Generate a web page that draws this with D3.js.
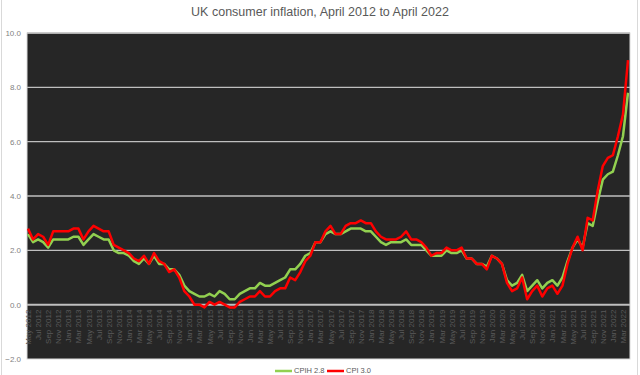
<!DOCTYPE html>
<html>
<head>
<meta charset="utf-8">
<script src="https://cdn.jsdelivr.net/npm/d3@7"></script>
<style>
  html, body { margin: 0; padding: 0; background: #fff; }
  svg { display: block; font-family: "Liberation Sans", Arial, sans-serif; }
</style>
</head>
<body>
<div id="chart"></div>
<script>
// UK consumer inflation, monthly 12-month rates, May 2012 .. Apr 2022

const months = d3.timeMonth.range(new Date(2012, 4, 1), new Date(2022, 4, 1));

const cpih = [
  2.6, 2.3, 2.4, 2.3, 2.1, 2.4, 2.4, 2.4,
  2.4, 2.5, 2.5, 2.2, 2.4, 2.6, 2.5, 2.4, 2.4, 2.0, 1.9, 1.9,
  1.8, 1.6, 1.5, 1.7, 1.5, 1.8, 1.5, 1.5, 1.3, 1.3, 1.1, 0.7,
  0.5, 0.4, 0.3, 0.3, 0.4, 0.3, 0.5, 0.4, 0.2, 0.2, 0.4, 0.5,
  0.6, 0.6, 0.8, 0.7, 0.7, 0.8, 0.9, 1.0, 1.3, 1.3, 1.5, 1.8,
  1.9, 2.3, 2.3, 2.6, 2.7, 2.6, 2.6, 2.7, 2.8, 2.8, 2.8, 2.7,
  2.7, 2.5, 2.3, 2.2, 2.3, 2.3, 2.3, 2.4, 2.2, 2.2, 2.2, 2.0,
  1.8, 1.8, 1.8, 2.0, 1.9, 1.9, 2.0, 1.7, 1.7, 1.5, 1.5, 1.4,
  1.8, 1.7, 1.5, 0.9, 0.7, 0.8, 1.1, 0.5, 0.7, 0.9, 0.6, 0.8,
  0.9, 0.7, 1.0, 1.6, 2.1, 2.4, 2.1, 3.0, 2.9, 3.8, 4.6, 4.8,
  4.9, 5.5, 6.2, 7.8
];

const cpi = [
  2.8, 2.4, 2.6, 2.5, 2.2, 2.7, 2.7, 2.7,
  2.7, 2.8, 2.8, 2.4, 2.7, 2.9, 2.8, 2.7, 2.7, 2.2, 2.1, 2.0,
  1.9, 1.7, 1.6, 1.8, 1.5, 1.9, 1.6, 1.5, 1.2, 1.3, 1.0, 0.5,
  0.3, 0.0, 0.0, -0.1, 0.1, 0.0, 0.1, 0.0, -0.1, -0.1, 0.1, 0.2,
  0.3, 0.3, 0.5, 0.3, 0.3, 0.5, 0.6, 0.6, 1.0, 0.9, 1.2, 1.6,
  1.8, 2.3, 2.3, 2.7, 2.9, 2.6, 2.6, 2.9, 3.0, 3.0, 3.1, 3.0,
  3.0, 2.7, 2.5, 2.4, 2.4, 2.4, 2.5, 2.7, 2.4, 2.4, 2.3, 2.1,
  1.8, 1.9, 1.9, 2.1, 2.0, 2.0, 2.1, 1.7, 1.7, 1.5, 1.5, 1.3,
  1.8, 1.7, 1.5, 0.8, 0.5, 0.6, 1.0, 0.2, 0.5, 0.7, 0.3, 0.6,
  0.7, 0.4, 0.7, 1.5, 2.1, 2.5, 2.0, 3.2, 3.1, 4.2, 5.1, 5.4,
  5.5, 6.2, 7.0, 9.0
];

const yTicks = [-2, 0, 2, 4, 6, 8, 10];
const seriesNames = ["CPIH 2.8", "CPI 3.0"];
const seriesColors = ["#92d050", "#ff0000"];

const W = 640, H = 375;
const plot = { left: 27, right: 630, top: 33, bottom: 359 };

const svg = d3.select("#chart").append("svg")
  .attr("width", W)
  .attr("height", H);

// chart frame
svg.append("rect")
  .attr("x", 1.5).attr("y", -2)
  .attr("width", 636).attr("height", H + 4)
  .attr("fill", "#fff")
  .attr("stroke", "#d9d9d9");

svg.append("text")
  .attr("x", W / 2)
  .attr("y", 16)
  .attr("text-anchor", "middle")
  .attr("fill", "#595959")
  .style("font-size", "12.5px")
  .text("UK consumer inflation, April 2012 to April 2022");

const x = d3.scalePoint()
  .domain(months.map((d, i) => i))
  .range([plot.left + 1, plot.right - 2]);

const y = d3.scaleLinear()
  .domain([-2, 10])
  .range([plot.bottom, plot.top]);

svg.append("rect")
  .attr("x", plot.left)
  .attr("y", plot.top)
  .attr("width", plot.right - plot.left)
  .attr("height", plot.bottom - plot.top)
  .attr("fill", "#262626")
  .attr("stroke", "#d9d9d9")
  .attr("stroke-width", 1);

// gridlines
svg.append("g")
  .selectAll("line")
  .data(yTicks.filter((d) => d > -2))
  .join("line")
  .attr("x1", plot.left)
  .attr("x2", plot.right)
  .attr("y1", (d) => y(d))
  .attr("y2", (d) => y(d))
  .attr("stroke", "#bfbfbf")
  .attr("stroke-width", (d) => (d === 0 ? 2 : 1.3));

// y axis labels
const yAxis = svg.append("g")
  .attr("transform", `translate(${plot.left},0)`)
  .call(d3.axisLeft(y).tickValues(yTicks).tickFormat(d3.format(".1f")).tickSize(0).tickPadding(6));
yAxis.select(".domain").remove();
yAxis.selectAll("text")
  .attr("fill", "#7f7f7f")
  .style("font-size", "8px")
  .style("font-family", "Liberation Sans, Arial, sans-serif");

// x axis sits on the zero line, labels rotated
const fmt = d3.timeFormat("%b %Y");
const xAxis = svg.append("g")
  .attr("transform", `translate(0,${y(0)})`)
  .call(d3.axisBottom(x)
    .tickValues(months.map((d, i) => i).filter((i) => i % 2 === 0))
    .tickFormat((i) => fmt(months[i]))
    .tickSize(0));
xAxis.select(".domain").remove();
xAxis.selectAll("text")
  .attr("transform", "rotate(-90)")
  .attr("text-anchor", "end")
  .attr("x", -5)
  .attr("y", 0)
  .attr("dy", "0.32em")
  .attr("fill", "#5a5a5a")
  .style("font-size", "8px")
  .style("font-family", "Liberation Sans, Arial, sans-serif");

const line = d3.line()
  .x((d, i) => x(i))
  .y((d) => y(d));

[cpih, cpi].forEach((s, k) => {
  svg.append("path")
    .datum(s)
    .attr("fill", "none")
    .attr("stroke", seriesColors[k])
    .attr("stroke-width", 2.5)
    .attr("stroke-linejoin", "round")
    .attr("d", line);
});

// legend
const legend = svg.append("g").attr("transform", "translate(275,371)");
const legendX = [0, 52];
seriesNames.forEach((name, k) => {
  const g = legend.append("g").attr("transform", `translate(${legendX[k]},0)`);
  g.append("line")
    .attr("x1", 0).attr("x2", 17)
    .attr("stroke", seriesColors[k])
    .attr("stroke-width", 2.5);
  g.append("text")
    .attr("x", 19)
    .attr("dy", "0.32em")
    .attr("fill", "#595959")
    .style("font-size", "7.5px")
    .text(name);
});
</script>
</body>
</html>
